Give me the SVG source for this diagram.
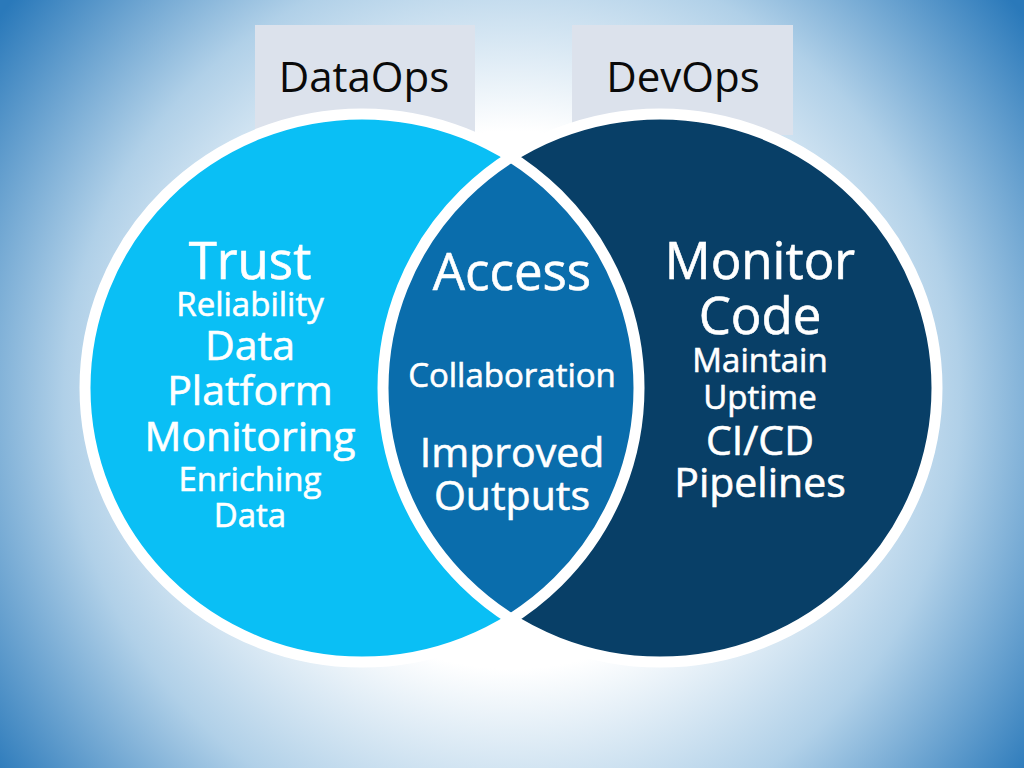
<svg xmlns="http://www.w3.org/2000/svg" width="1024" height="768" viewBox="0 0 1024 768">
  <defs>
    <radialGradient id="bg" gradientUnits="userSpaceOnUse" cx="512" cy="400" r="640">
      <stop offset="0" stop-color="#FFFFFF"/>
      <stop offset="0.42" stop-color="#FFFFFF"/>
      <stop offset="0.7" stop-color="#B0D0E8"/>
      <stop offset="1" stop-color="#2A79BA"/>
    </radialGradient>
    <clipPath id="leftClip">
      <ellipse cx="362" cy="388" rx="277" ry="274"/>
    </clipPath>
    <style>
      .txt { font-family: "Open Sans", "Noto Sans", "Liberation Sans", sans-serif; fill: #FFFFFF; text-anchor: middle; font-weight: 500; stroke: #FFFFFF; stroke-width: 0.6; }
      .lg { font-size: 51px; }
      .md { font-size: 41px; }
      .sm { font-size: 33px; }
      .lbl { font-family: "Open Sans", "Noto Sans", "Liberation Sans", sans-serif; fill: #0A0A0A; text-anchor: middle; font-size: 42px; font-weight: 500; }
      .box { fill: #DCE2EC; }
      .ring { fill: none; stroke: #FFFFFF; stroke-width: 11; }
    </style>
  </defs>

  <rect x="0" y="0" width="1024" height="768" fill="url(#bg)"/>

  <g id="label-dataops">
    <rect class="box" x="255" y="25" width="220" height="110"/>
    <text class="lbl" x="364" y="92">DataOps</text>
  </g>
  <g id="label-devops">
    <rect class="box" x="572" y="25" width="221" height="110"/>
    <text class="lbl" x="683" y="92">DevOps</text>
  </g>

  <g id="circle-dataops">
    <ellipse cx="362" cy="388" rx="277" ry="274" fill="#0ABFF5"/>
  </g>
  <g id="circle-devops">
    <ellipse cx="660" cy="388" rx="277" ry="274" fill="#083F67"/>
  </g>
  <g id="overlap">
    <ellipse cx="660" cy="388" rx="277" ry="274" fill="#0A6DAC" clip-path="url(#leftClip)"/>
  </g>
  <g id="rings">
    <ellipse class="ring" cx="362" cy="388" rx="277" ry="274"/>
    <ellipse class="ring" cx="660" cy="388" rx="277" ry="274"/>
  </g>

  <g id="text-dataops">
    <text class="txt lg" x="250" y="279">Trust</text>
    <text class="txt sm" x="250" y="316">Reliability</text>
    <text class="txt md" x="250" y="360">Data</text>
    <text class="txt md" x="250" y="405">Platform</text>
    <text class="txt md" x="250" y="451">Monitoring</text>
    <text class="txt sm" x="250" y="491">Enriching</text>
    <text class="txt sm" x="250" y="527">Data</text>
  </g>
  <g id="text-overlap">
    <text class="txt lg" x="512" y="290">Access</text>
    <text class="txt sm" x="512" y="387">Collaboration</text>
    <text class="txt md" x="512" y="467">Improved</text>
    <text class="txt md" x="512" y="510">Outputs</text>
  </g>
  <g id="text-devops">
    <text class="txt lg" x="760" y="279">Monitor</text>
    <text class="txt lg" x="760" y="334">Code</text>
    <text class="txt sm" x="760" y="372">Maintain</text>
    <text class="txt sm" x="760" y="409">Uptime</text>
    <text class="txt md" x="760" y="455">CI/CD</text>
    <text class="txt md" x="760" y="497">Pipelines</text>
  </g>
</svg>
